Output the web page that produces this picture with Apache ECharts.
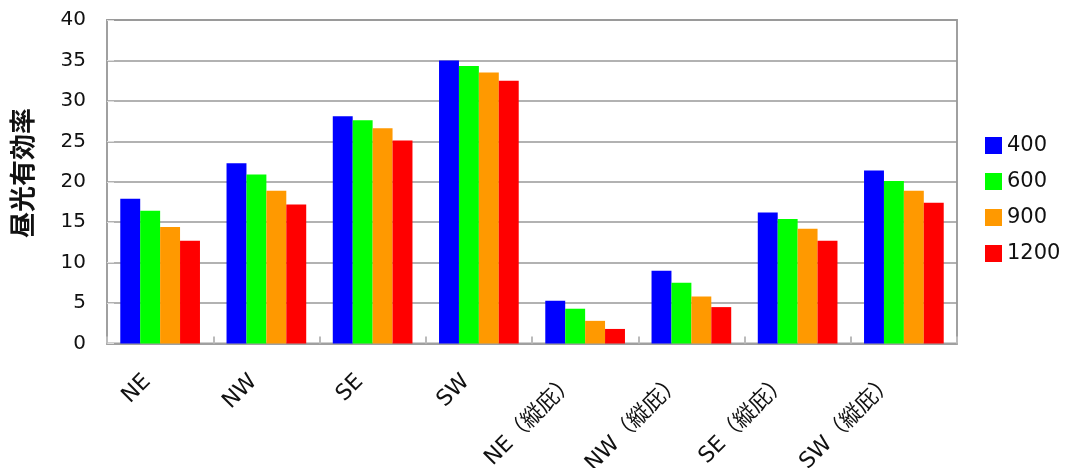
<!DOCTYPE html>
<html>
<head>
<meta charset="utf-8">
<script src="https://cdn.jsdelivr.net/npm/echarts@6/dist/echarts.min.js"></script>
<style>
  html, body { margin: 0; padding: 0; background: #fff; }
  #chart { width: 1068px; height: 468px; }
</style>
</head>
<body>
<div id="chart"></div>
<script>
// Orientation categories (plain and with vertical fins)
const categories = ['NE', 'NW', 'SE', 'SW', 'NE（縦庇）', 'NW（縦庇）', 'SE（縦庇）', 'SW（縦庇）'];

// Daylight efficiency per series
const seriesNames = ['400', '600', '900', '1200'];
const values400  = [17.9, 22.3, 28.1, 35.0, 5.3, 9.0, 16.2, 21.4];
const values600  = [16.4, 20.9, 27.6, 34.3, 4.3, 7.5, 15.4, 20.1];
const values900  = [14.4, 18.9, 26.6, 33.5, 2.8, 5.8, 14.2, 18.9];
const values1200 = [12.7, 17.2, 25.1, 32.5, 1.8, 4.5, 12.7, 17.4];
const seriesColors = ['#0000ff', '#00ff00', '#ff9900', '#ff0000'];

const yTicks = { min: 0, max: 40, interval: 5 };
const yAxisTitle = '昼光有効率';

const allValues = [values400, values600, values900, values1200];
const font = '"DejaVu Sans", "Noto Sans CJK JP", sans-serif';
const cjkFont = '"Noto Sans CJK JP", sans-serif';

const chart = echarts.init(document.getElementById('chart'), null, { renderer: 'canvas' });

chart.setOption({
  animation: false,
  backgroundColor: '#ffffff',
  grid: {
    left: 107, right: 111, top: 20, bottom: 124.5,
    outerBoundsMode: 'none',
    containLabel: false,
    show: true,
    borderColor: '#a0a0a0',
    borderWidth: 2
  },
  legend: {
    orient: 'vertical',
    left: 985,
    top: 135,
    padding: 0,
    itemWidth: 17,
    itemHeight: 17,
    itemGap: 15,
    icon: 'rect',
    data: seriesNames,
    textStyle: { fontFamily: font, fontSize: 21, color: '#111' }
  },
  graphic: [{
    type: 'text',
    x: 22,
    y: 173,
    rotation: Math.PI / 2,
    style: {
      text: yAxisTitle,
      fontFamily: cjkFont,
      fontSize: 26,
      fontWeight: 'bold',
      fill: '#111',
      align: 'center',
      verticalAlign: 'middle'
    }
  }],
  xAxis: {
    type: 'category',
    data: categories,
    axisLine: { lineStyle: { color: '#a0a0a0', width: 2 } },
    axisTick: { show: true, inside: true, length: 7, lineStyle: { color: '#bbbbbb', width: 2 } },
    axisLabel: {
      rotate: 45,
      margin: 22,
      interval: 0,
      padding: [0, 18, 0, 0],
      fontFamily: font,
      fontSize: 22,
      color: '#111'
    },
    splitLine: { show: false }
  },
  yAxis: {
    type: 'value',
    min: yTicks.min,
    max: yTicks.max,
    interval: yTicks.interval,
    axisLine: { show: true, lineStyle: { color: '#a0a0a0', width: 2 } },
    axisTick: { show: true, inside: true, length: 7, lineStyle: { color: '#dddddd' } },
    axisLabel: { fontFamily: font, fontSize: 20, color: '#111', margin: 21 },
    splitLine: { show: true, lineStyle: { color: '#999999', width: 1.5 } }
  },
  series: seriesNames.map((name, i) => ({
    name: name,
    type: 'bar',
    data: allValues[i],
    barGap: '0%',
    barCategoryGap: '25%',
    itemStyle: { color: seriesColors[i] }
  }))
});
</script>
</body>
</html>
